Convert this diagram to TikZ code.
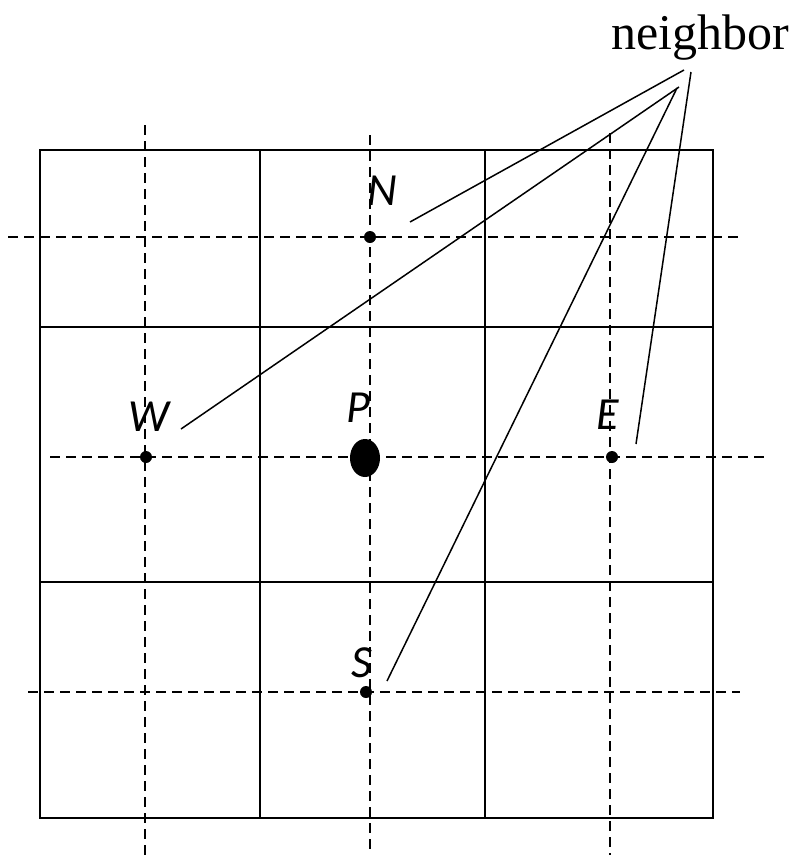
\documentclass[tikz,border=0pt]{standalone}
\usepackage{fontspec}
\setmainfont{Liberation Serif}
\newfontfamily\lblfont{Carlito}
\usetikzlibrary{positioning, shapes.geometric}

\begin{document}
\begin{tikzpicture}[
  x=1pt, y=-1pt,
  cell/.style={line width=1.9pt},
  axis/.style={line width=1.8pt, dash pattern=on 10pt off 6pt},
  lead/.style={line width=1.5pt},
  gridpt/.style={circle, fill=black, inner sep=0pt, minimum size=12pt},
  lbl/.style={font=\lblfont\itshape\fontsize{46}{46}\selectfont, inner sep=0pt},
]
\useasboundingbox (0,0) rectangle (798,855);

%% solid grid
\draw[cell] (40,150) rectangle (713,818);
\foreach \x in {260,485} \draw[cell] (\x,150) -- (\x,818);
\foreach \y in {327,582} \draw[cell] (40,\y) -- (713,\y);

%% dashed lines through the nodes
\draw[axis] (145,125) -- (145,855);
\draw[axis] (370,135) -- (370,855);
\draw[axis] (610,133) -- (610,855);
\draw[axis] (8,237) -- (740,237);
\draw[axis] (50,457) -- (765,457);
\draw[axis] (28,692) -- (740,692);

%% points
\node[gridpt] (n) at (370,237) {};
\node[gridpt] (w) at (146,457) {};
\node[gridpt] (e) at (612,457) {};
\node[gridpt] (s) at (366,692) {};
\node[fill=black, ellipse, inner sep=0pt, minimum width=30pt, minimum height=38pt] (p) at (365,458) {};

%% labels
\node[lbl] (lblN) at (382,191) {N};
\node[lbl] (lblW) at (149,417) {W};
\node[lbl] (lblP) at (358,408) {P};
\node[lbl] (lblE) at (608,415) {E};
\node[lbl] (lblS) at (362,663) {S};

\node[font=\fontsize{50}{50}\selectfont, inner sep=0pt] (nb) at (700,38) {neighbor};

%% leader lines
\coordinate (nbN) at (684,70);
\coordinate (nbW) at (679,87);
\coordinate (nbS) at (677,88);
\coordinate (nbE) at (691,72);
\coordinate (toN) at (410,222);
\coordinate (toW) at (181,429);
\coordinate (toS) at (387,681);
\coordinate (toE) at (636,444);
\draw[lead] (nbN) -- (toN);
\draw[lead] (nbW) -- (toW);
\draw[lead] (nbS) -- (toS);
\draw[lead] (nbE) -- (toE);
\end{tikzpicture}
\end{document}
